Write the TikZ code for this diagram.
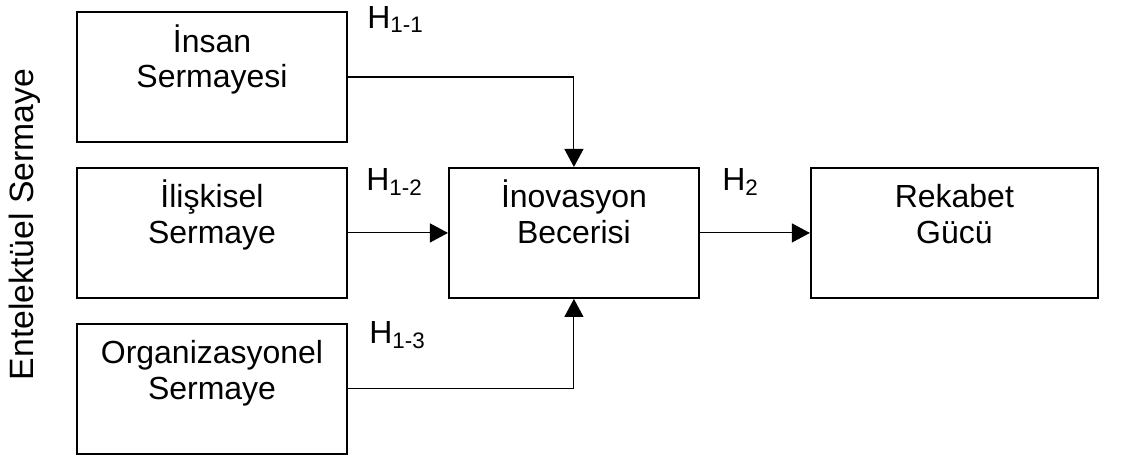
\documentclass[tikz,border=0pt]{standalone}
\usepackage{fontspec}
\setmainfont{Liberation Sans}
\usetikzlibrary{arrows.meta,positioning}

\begin{document}
\begin{tikzpicture}[
  font=\fontsize{18.2}{20}\selectfont,
  kutu/.style={draw,line width=1.1pt,text width=#1,align=center,inner xsep=0pt,inner ysep=0pt,
    text height=0.8cm,text depth=1.8cm},
  kutu/.default=5.4cm,
  ok/.style={-{Triangle[length=3.6mm,width=3.8mm]},line width=.6pt},
  hipotez/.style={anchor=base west,inner sep=0pt}
]
\useasboundingbox (0,0) rectangle (22.74,-9.08);
\node[kutu] (insan) at (4.24,-1.54) {İnsan\\Sermayesi};
\node[kutu,below=4.8mm of insan] (iliskisel) {İlişkisel\\Sermaye};
\node[kutu,below=4.8mm of iliskisel] (organizasyonel) {Organizasyonel\\Sermaye};
\node[kutu=5.0cm,right=2.0cm of iliskisel] (inovasyon) {İnovasyon\\Becerisi};
\node[kutu=5.74cm,right=2.2cm of inovasyon] (rekabet) {Rekabet\\Gücü};
\node[rotate=90,anchor=base,font=\fontsize{19.2}{22}\selectfont] (entelektuel) at (0.66,-4.49) {Entelektüel Sermaye};
\draw[ok] (insan.east) -| (inovasyon.north);
\draw[ok] (iliskisel) -- (inovasyon);
\draw[ok] (organizasyonel.east) -| (inovasyon.south);
\draw[ok] (inovasyon) -- (rekabet);
\node[hipotez] (h11) at (7.34,-0.56) {H\textsubscript{1-1}};
\node[hipotez] (h12) at (7.32,-3.8) {H\textsubscript{1-2}};
\node[hipotez] (h13) at (7.38,-6.86) {H\textsubscript{1-3}};
\node[hipotez] (h2) at (14.44,-3.8) {H\textsubscript{2}};
\end{tikzpicture}
\end{document}
